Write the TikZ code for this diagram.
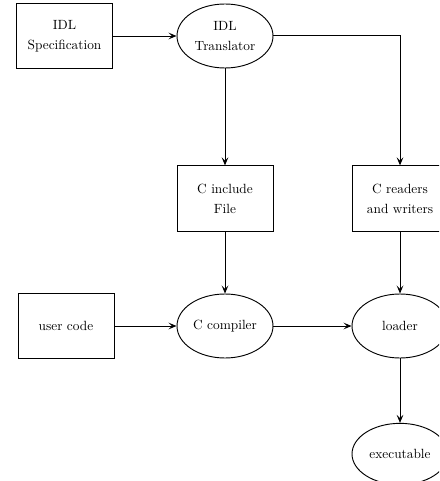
\documentclass[tikz,border=0pt]{standalone}
\usetikzlibrary{shapes.geometric,arrows.meta}
\begin{document}
\begin{tikzpicture}[x=0.75pt,y=-0.75pt,
  boxnode/.style={draw,line width=0.7pt,minimum width=72pt,minimum height=49pt,align=center,inner sep=1pt},
  ellnode/.style={draw,ellipse,line width=0.7pt,minimum width=72pt,minimum height=48pt,align=center,inner sep=1pt},
  conn/.style={line width=0.7pt,-{Stealth[length=6pt,width=5pt,inset=2.5pt]}},
  font=\fontsize{10}{15}\selectfont]
\useasboundingbox (0,0) rectangle (439,481);
\clip (0,0) rectangle (439,481);
\node[boxnode] (spec) at (64.5,36) {IDL\\Specification};
\node[ellnode] (trans) at (225,36) {IDL\\Translator};
\node[boxnode] (inc) at (225,198.5) {C include\\File};
\node[boxnode] (rw) at (400,198.5) {C readers\\and writers};
\node[boxnode] (user) at (66,326) {user code};
\node[ellnode] (comp) at (225,326) {C compiler};
\node[ellnode] (load) at (400,326) {loader};
\node[ellnode,minimum height=46pt] (exe) at (400,454) {executable};
\coordinate (corner) at (400,35);
\draw[conn] (spec) -- (trans);
\draw[conn] (trans.east |- corner) -- (corner) -- (rw.north);
\draw[conn] (trans.south) -- (inc.north);
\draw[conn] (inc.south) -- (comp.north);
\draw[conn] (rw.south) -- (load.north);
\draw[conn] (user.east) -- (comp.west);
\draw[conn] (comp.east) -- (load.west);
\draw[conn] (load.south) -- (exe.north);
\end{tikzpicture}
\end{document}
